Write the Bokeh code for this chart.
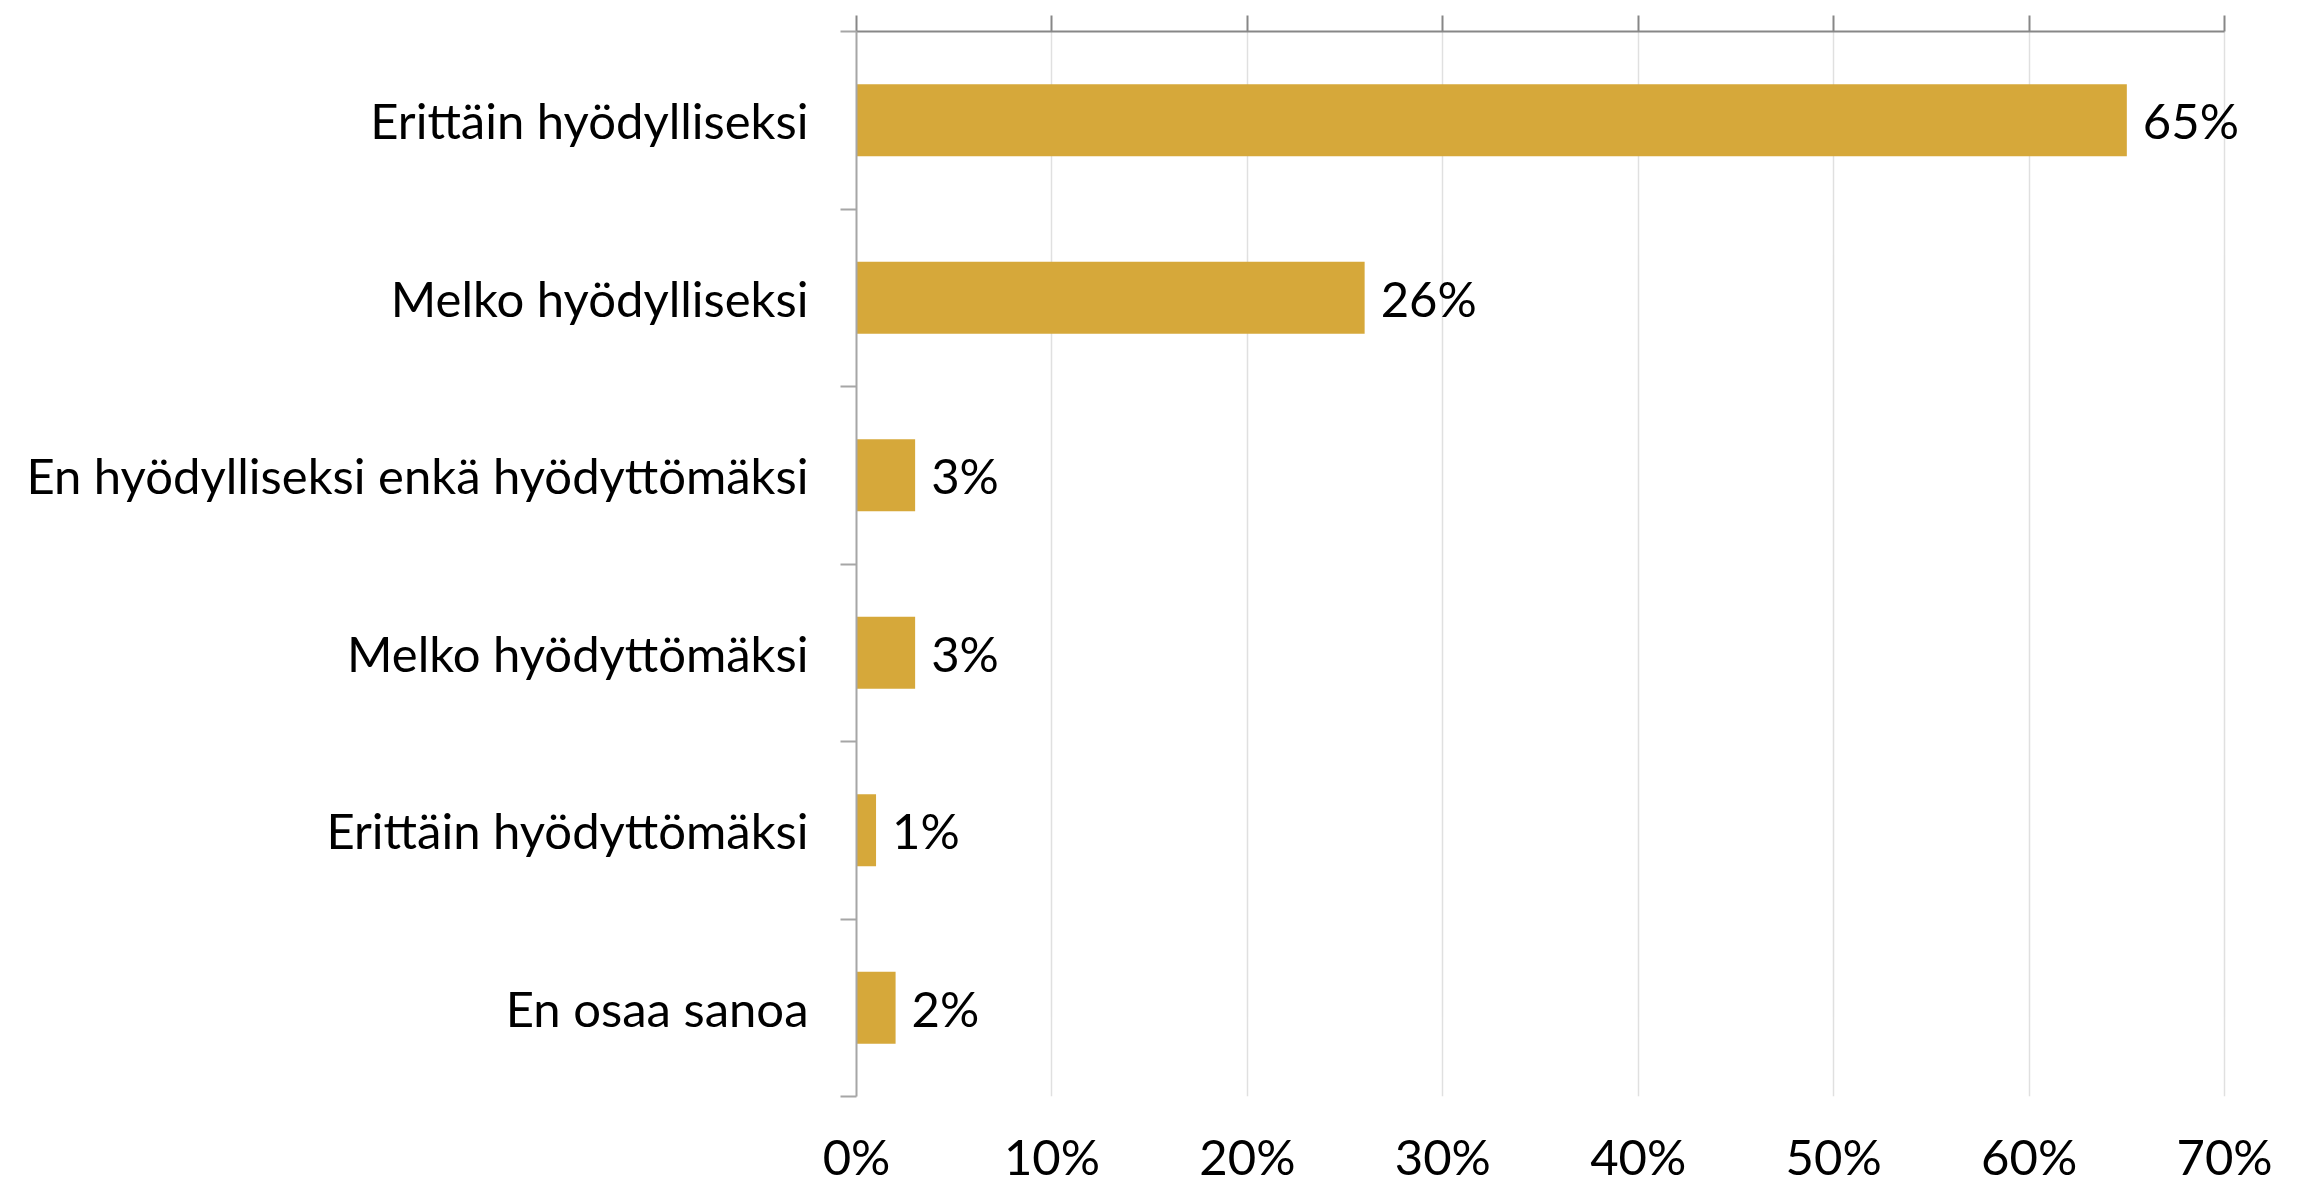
from bokeh.plotting import figure
from bokeh.models import (Range1d, LinearAxis, FixedTicker, PrintfTickFormatter,
                          ColumnDataSource, LabelSet)
from bokeh.core.properties import value
from bokeh.embed import file_html
from bokeh.resources import INLINE

categories = [
    "Erittäin hyödylliseksi",
    "Melko hyödylliseksi",
    "En hyödylliseksi enkä hyödyttömäksi",
    "Melko hyödyttömäksi",
    "Erittäin hyödyttömäksi",
    "En osaa sanoa",
]
values = [65, 26, 3, 3, 1, 2]
x_ticks = [0, 10, 20, 30, 40, 50, 60, 70]

FONT = "Lato"
FS = "49px"
BAR = "#D6A83A"

n = len(categories)
centers = [i + 0.5 for i in range(n)]
bounds = [float(i) for i in range(n + 1)]

src = ColumnDataSource(dict(
    y=centers,
    v=values,
    lbl=[f"{v}%" for v in values],
))

# x range runs a little past 70% so the value labels have room inside the frame;
# axes and grid are bounded to 0..70
p = figure(
    x_range=Range1d(0, 74.5), y_range=Range1d(n, 0),
    frame_width=1456, frame_height=1065,
    min_border_left=856, min_border_top=31, min_border_right=0, min_border_bottom=50,
    output_backend="svg", toolbar_location=None,
    x_axis_location=None, y_axis_location=None,
)
p.outline_line_color = None
p.background_fill_color = "white"
p.border_fill_color = "white"

# grid
p.xgrid.ticker = FixedTicker(ticks=x_ticks)
p.xgrid.grid_line_color = "#e0e0e0"
p.xgrid.grid_line_width = 1.5
p.ygrid.grid_line_color = None

# bars
p.hbar(y="y", right="v", left=0, height=0.405, source=src, color=BAR, line_color=None)

# value labels
labels = LabelSet(x="v", y="y", text="lbl", source=src, x_offset=16,
                  text_baseline="middle", text_align="left",
                  text_font=value(FONT), text_font_size=value(FS), text_color="black")
p.add_layout(labels)

# top axis: line + outward ticks, no labels
top = LinearAxis(ticker=FixedTicker(ticks=x_ticks), bounds=(0, 70))
top.axis_line_color = "#878787"
top.axis_line_width = 2
top.major_tick_line_color = "#878787"
top.major_tick_line_width = 2
top.major_tick_out = 16
top.major_tick_in = 0
top.minor_tick_line_color = None
top.major_label_text_font_size = "0px"
top.major_label_text_color = None
p.add_layout(top, "above")

# bottom axis: labels only
bot = LinearAxis(ticker=FixedTicker(ticks=x_ticks), formatter=PrintfTickFormatter(format="%d%%"),
                 bounds=(0, 70))
bot.axis_line_color = None
bot.major_tick_line_color = None
bot.minor_tick_line_color = None
bot.major_tick_out = 0
bot.major_tick_in = 0
bot.major_label_standoff = 30
bot.major_label_text_font = FONT
bot.major_label_text_font_size = FS
bot.major_label_text_color = "black"
p.add_layout(bot, "below")

# left axis: category labels at centres, ticks at band boundaries
left = LinearAxis(ticker=FixedTicker(ticks=centers, minor_ticks=bounds))
left.major_label_overrides = {c: cat for c, cat in zip(centers, categories)}
left.axis_line_color = "#a6a6a6"
left.axis_line_width = 2
left.major_tick_line_color = None
left.major_tick_out = 0
left.major_tick_in = 0
left.minor_tick_line_color = "#a6a6a6"
left.minor_tick_line_width = 2
left.minor_tick_out = 16
left.minor_tick_in = 0
left.major_label_standoff = 32
left.major_label_text_font = FONT
left.major_label_text_font_size = FS
left.major_label_text_color = "black"
p.add_layout(left, "left")

open("out.html", "w").write(file_html(p, INLINE))
